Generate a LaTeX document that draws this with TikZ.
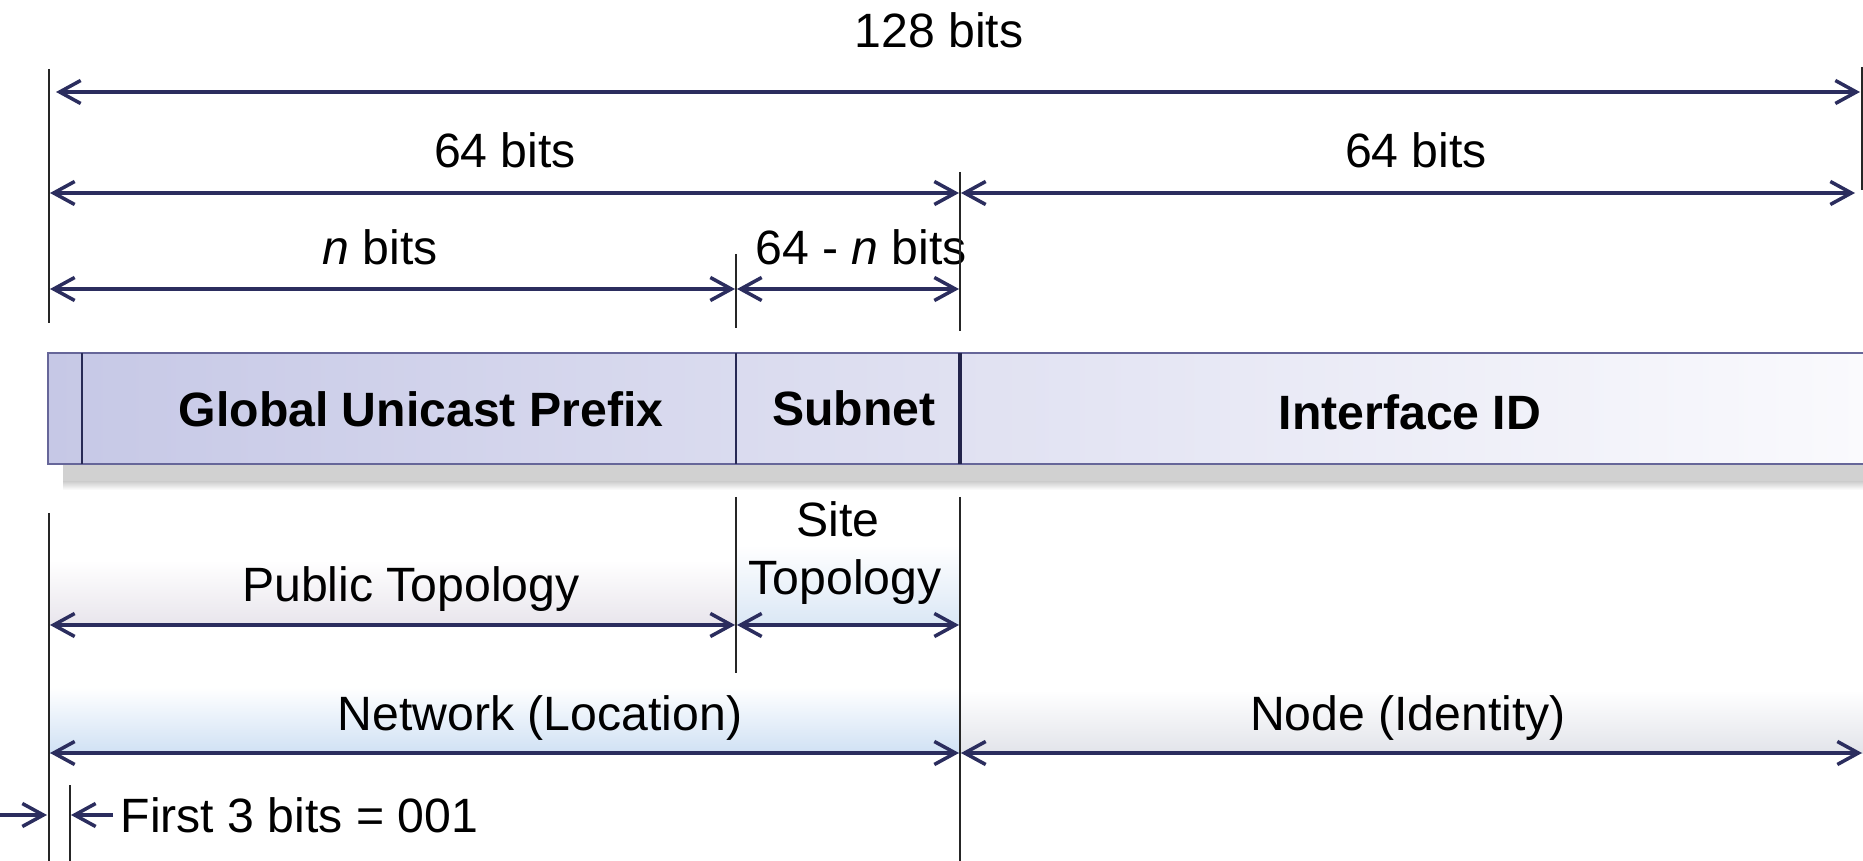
\documentclass[tikz,border=0pt]{standalone}
\usepackage{fontspec}
\setmainfont{Liberation Sans}
\usepackage{tikz}
\usetikzlibrary{arrows.meta}

\definecolor{navy}{RGB}{43,45,94}
\definecolor{barleft}{RGB}{198,200,230}
\definecolor{barright}{RGB}{250,250,253}
\definecolor{pubband}{RGB}{232,229,236}
\definecolor{siteband}{RGB}{218,231,245}
\definecolor{netband}{RGB}{208,225,244}
\definecolor{nodeband}{RGB}{226,228,234}

\begin{document}
\begin{tikzpicture}[x=0.01cm,y=-0.01cm,
			dim line/.style={navy,line width=1pt,
				{Straight Barb[length=0.21cm,width=0.23cm]}-{Straight Barb[length=0.21cm,width=0.23cm]}},
			half line/.style={navy,line width=1pt,
				-{Straight Barb[length=0.21cm,width=0.23cm]}},
			tick/.style={black!85,line width=0.45pt},
			bits label/.style={inner sep=0pt,anchor=base,
				font=\fontsize{13.7}{16}\selectfont},
			field label/.style={bits label,font=\fontsize{13.7}{16}\selectfont\bfseries}]
			
			\useasboundingbox (0,0) rectangle (1863,861);
			
			% bands behind the lower labels
			\shade[top color=white,bottom color=pubband] (49,560) rectangle (736,625);
			\shade[top color=white,bottom color=siteband] (736,545) rectangle (960,625);
			\shade[top color=white,bottom color=netband] (49,687) rectangle (960,753);
			\shade[top color=white,bottom color=nodeband] (960,690) rectangle (1866,753);
			
			% address bar and its shadow
			\fill[black!18] (63,464) rectangle (1866,482);
			\shade[top color=black!18,bottom color=white] (63,482) rectangle (1866,490);
			\shade[left color=barleft,right color=barright] (48,353) rectangle (1866,464);
			\draw[gray!80!blue,line width=0.5pt] (1866,353) -- (48,353) -- (48,464) -- (1866,464);
			\draw[navy!90!black,line width=0.45pt] (82,353) -- (82,464);
			\draw[navy!90!black,line width=0.45pt] (736,353) -- (736,464);
			\draw[navy!80!black,line width=1.4pt] (960,353) -- (960,464);
			
			\node[field label] (gup) at (421,427) {Global Unicast Prefix};
			\node[field label] (subnet) at (854,426) {Subnet};
			\node[field label] (iid) at (1410,430) {Interface ID};
			
			% labels
			\node[bits label] (all) at (939,48) {128 bits};
			\node[bits label] (netbits) at (505,168) {64 bits};
			\node[bits label] (hostbits) at (1416,168) {64 bits};
			\node[bits label] (nbits) at (380,265) {\textit{n} bits};
			\node[bits label] (subbits) at (861,265) {64 - \textit{n} bits};
			\node[bits label] (site) at (838,537) {Site};
			\node[bits label] (sitetopo) at (845,595) {Topology};
			\node[bits label] (pubtopo) at (411,601) {Public Topology};
			\node[bits label] (netloc) at (540,731) {Network (Location)};
			\node[bits label] (nodeid) at (1408,731) {Node (Identity)};
			\node[bits label,anchor=base west] (first) at (120,832) {First 3 bits = 001};
			
			% tick lines
			\coordinate (a0) at (49,69);
			\coordinate (a1) at (49,323);
			\coordinate (b0) at (49,513);
			\coordinate (b1) at (49,861);
			\coordinate (c0) at (736,254);
			\coordinate (c1) at (736,328);
			\coordinate (d0) at (736,497);
			\coordinate (d1) at (736,673);
			\coordinate (e0) at (960,172);
			\coordinate (e1) at (960,331);
			\coordinate (f0) at (960,497);
			\coordinate (f1) at (960,861);
			\coordinate (g0) at (1862,67);
			\coordinate (g1) at (1862,190);
			\coordinate (h0) at (70,785);
			\coordinate (h1) at (70,861);
			\path[tick] (a0) edge (a1)
			(b0) edge (b1)
			(c0) edge (c1)
			(d0) edge (d1)
			(e0) edge (e1)
			(f0) edge (f1)
			(g0) edge (g1)
			(h0) edge (h1);
			
			% arrow ends
			\coordinate (w128) at (56,92);
			\coordinate (e128) at (1860,92);
			\coordinate (wnet) at (50,193);
			\coordinate (enet) at (959,193);
			\coordinate (whost) at (961,193);
			\coordinate (ehost) at (1855,193);
			\coordinate (wn) at (50,289);
			\coordinate (en) at (735,289);
			\coordinate (wsub) at (737,289);
			\coordinate (esub) at (959,289);
			\coordinate (wpub) at (50,625);
			\coordinate (epub) at (735,625);
			\coordinate (wsite) at (737,625);
			\coordinate (esite) at (959,625);
			\coordinate (wloc) at (50,753);
			\coordinate (eloc) at (959,753);
			\coordinate (wid) at (961,753);
			\coordinate (eid) at (1862,753);
			\coordinate (x0) at (0,815);
			\coordinate (x1) at (47,815);
			\coordinate (y0) at (113,815);
			\coordinate (y1) at (71,815);
			\draw[dim line] (w128) -- (e128);
			\draw[dim line] (wnet) -- (enet);
			\draw[dim line] (whost) -- (ehost);
			\draw[dim line] (wn) -- (en);
			\draw[dim line] (wsub) -- (esub);
			\draw[dim line] (wpub) -- (epub);
			\draw[dim line] (wsite) -- (esite);
			\draw[dim line] (wloc) -- (eloc);
			\draw[dim line] (wid) -- (eid);
			\draw[half line] (x0) -- (x1);
			\draw[half line] (y0) -- (y1);
		\end{tikzpicture}
\end{document}
